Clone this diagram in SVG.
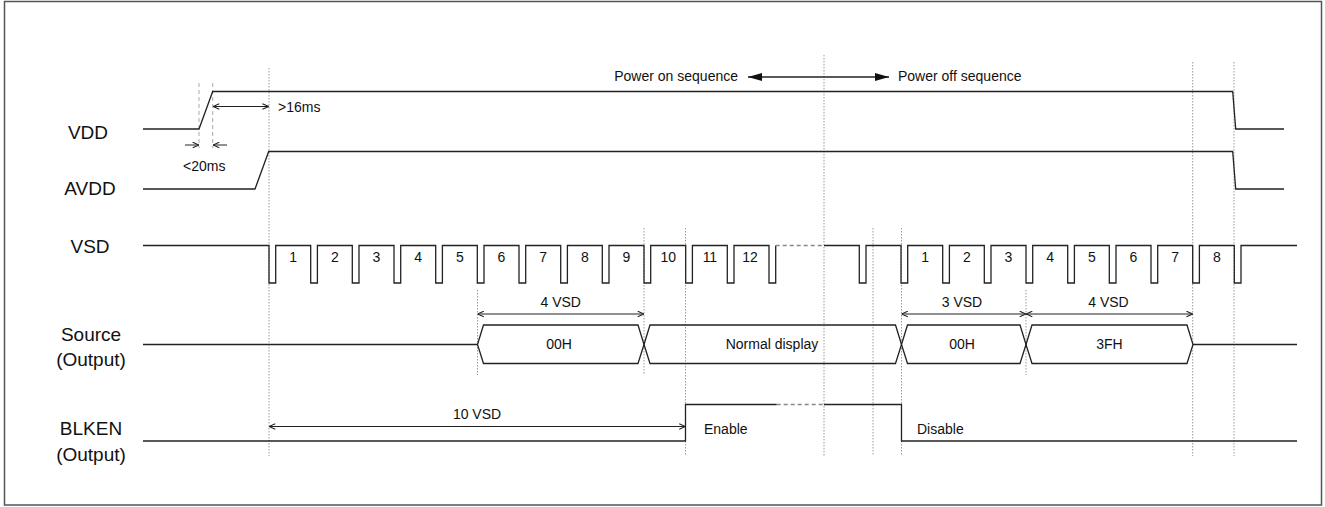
<svg xmlns="http://www.w3.org/2000/svg" width="1325" height="507" viewBox="0 0 1325 507">
<style>
.sig{fill:none;stroke:#222;stroke-width:1.3}
.sigdash{fill:none;stroke:#888;stroke-width:1.3;stroke-dasharray:4 3}
.grid{fill:none;stroke:#9a9a9a;stroke-width:1;stroke-dasharray:1.5 1.5}
.dash{fill:none;stroke:#aaa;stroke-width:1;stroke-dasharray:4 3}
.lbl{font-family:"Liberation Sans",Arial,sans-serif;font-size:19px;fill:#111;text-anchor:middle}
.t{font-family:"Liberation Sans",Arial,sans-serif;font-size:14px;fill:#111}
.c{text-anchor:middle}
.dim{fill:none;stroke:#222;stroke-width:1;marker-start:url(#oa);marker-end:url(#oa)}
.dim1{fill:none;stroke:#222;stroke-width:1;marker-end:url(#oa)}
.pw{fill:none;stroke:#222;stroke-width:1.3;marker-start:url(#fa);marker-end:url(#fa)}
</style>
<defs>
<marker id="oa" viewBox="0 0 10 10" refX="10" refY="5" markerWidth="7" markerHeight="7" markerUnits="userSpaceOnUse" orient="auto-start-reverse"><path d="M1,1 L10,5 L1,9" fill="none" stroke="#222" stroke-width="1.5"/></marker>
<marker id="fa" viewBox="0 0 14 8" refX="14" refY="4" markerWidth="14" markerHeight="8" markerUnits="userSpaceOnUse" orient="auto-start-reverse"><path d="M0,0 L14,4 L0,8 Z" fill="#111"/></marker>
</defs>
<rect x="4.5" y="1.5" width="1317" height="503.5" fill="#fff" stroke="#555" stroke-width="1.5"/>

<g id="gridlines">
<path class="grid" d="M269,68 V456 M477.5,290 V375 M644,228 V375 M685.5,228 V456 M824,55 V456 M873,228 V456 M901.5,228 V456 M1026,290 V375 M1192.7,62 V456 M1234,62 V456"/>
<path class="dash" d="M199,83 V148 M212.7,83 V148"/>
</g>

<g id="vdd">
<text class="lbl" x="88" y="139">VDD</text>
<path class="sig" d="M143,129 H199 L212.7,91.5 H1232.7 L1235.7,129 H1284"/>
</g>

<g id="avdd">
<text class="lbl" x="90" y="195">AVDD</text>
<path class="sig" d="M143,189 H255 L268.7,151.5 H1232.7 L1235.7,189 H1284"/>
</g>

<g id="vsd">
<text class="lbl" x="90" y="253">VSD</text>
<path class="sig" d="M143,245.5 H269 V283 H275.7 V245.5 H310.7 V283 H317.4 V245.5 H352.3 V283 H359 V245.5 H394 V283 H400.7 V245.5 H435.7 V283 H442.4 V245.5 H477.3 V283 H484 V245.5 H519 V283 H525.7 V245.5 H560.7 V283 H567.4 V245.5 H602.3 V283 H609 V245.5 H644 V283 H650.7 V245.5 H685.7 V283 H692.4 V245.5 H727.3 V283 H734 V245.5 H769 V283 H775.7 V245.5"/>
<path class="sigdash" d="M775.7,245.5 H824"/>
<path class="sig" d="M824,245.5 H859.3 V283 H866 V245.5 H901 V283 H907.7 V245.5 H942.7 V283 H949.4 V245.5 H984.3 V283 H991 V245.5 H1026 V283 H1032.7 V245.5 H1067.7 V283 H1074.4 V245.5 H1109.3 V283 H1116 V245.5 H1151 V283 H1157.7 V245.5 H1192.7 V283 H1199.4 V245.5 H1234.3 V283 H1241 V245.5 H1297"/>
<g class="t c">
<text x="293.2" y="262">1</text><text x="334.9" y="262">2</text><text x="376.5" y="262">3</text><text x="418.2" y="262">4</text><text x="459.9" y="262">5</text><text x="501.5" y="262">6</text><text x="543.2" y="262">7</text><text x="584.9" y="262">8</text><text x="626.5" y="262">9</text><text x="668.2" y="262">10</text><text x="709.9" y="262">11</text><text x="750" y="262">12</text>
<text x="925.2" y="262">1</text><text x="966.9" y="262">2</text><text x="1008.5" y="262">3</text><text x="1050.2" y="262">4</text><text x="1091.9" y="262">5</text><text x="1133.5" y="262">6</text><text x="1175.2" y="262">7</text><text x="1216.9" y="262">8</text>
</g>
</g>

<g id="source">
<text class="lbl" x="91" y="341">Source</text>
<text class="lbl" x="91" y="366">(Output)</text>
<path class="sig" d="M143,344.5 H477.5 M1193,344.5 H1297"/>
<path class="sig" d="M477.5,344.5 L483.5,325 H638 L644,344.5 L638,363.5 H483.5 Z"/>
<path class="sig" d="M644,344.5 L650,325 H895.5 L901.5,344.5 L895.5,363.5 H650 Z"/>
<path class="sig" d="M901.5,344.5 L907.5,325 H1020 L1026,344.5 L1020,363.5 H907.5 Z"/>
<path class="sig" d="M1026,344.5 L1032,325 H1187 L1193,344.5 L1187,363.5 H1032 Z"/>
<g class="t c">
<text x="559" y="349">00H</text>
<text x="772" y="349">Normal display</text>
<text x="962" y="349">00H</text>
<text x="1109.5" y="349">3FH</text>
</g>
</g>

<g id="blken">
<text class="lbl" x="91" y="435">BLKEN</text>
<text class="lbl" x="91" y="461">(Output)</text>
<path class="sig" d="M143,441 H685.5 V404.5 H776.7"/>
<path class="sigdash" d="M776.7,404.5 H824"/>
<path class="sig" d="M824,404.5 H901.5 V441 H1297"/>
<text class="t" x="704" y="434">Enable</text>
<text class="t" x="917" y="434">Disable</text>
</g>

<g id="connectors">
<path class="dim" d="M213,106.5 H268.7"/>
<text class="t" x="278" y="112">&gt;16ms</text>
<path class="dim1" d="M185,145 H199"/>
<path class="dim1" d="M227,145 H213"/>
<text class="t" x="183" y="171">&lt;20ms</text>
<path class="dim" d="M477.5,314 H644"/>
<text class="t c" x="560.7" y="307">4 VSD</text>
<path class="dim" d="M901.5,314 H1026"/>
<text class="t c" x="962" y="307">3 VSD</text>
<path class="dim" d="M1026,314 H1192.7"/>
<text class="t c" x="1108.5" y="307">4 VSD</text>
<path class="dim" d="M269,426.5 H685.5"/>
<text class="t c" x="477" y="419">10 VSD</text>
<path class="pw" d="M748,77 H889"/>
<text class="t" x="738" y="81" text-anchor="end">Power on sequence</text>
<text class="t" x="898" y="81">Power off sequence</text>
</g>
</svg>
